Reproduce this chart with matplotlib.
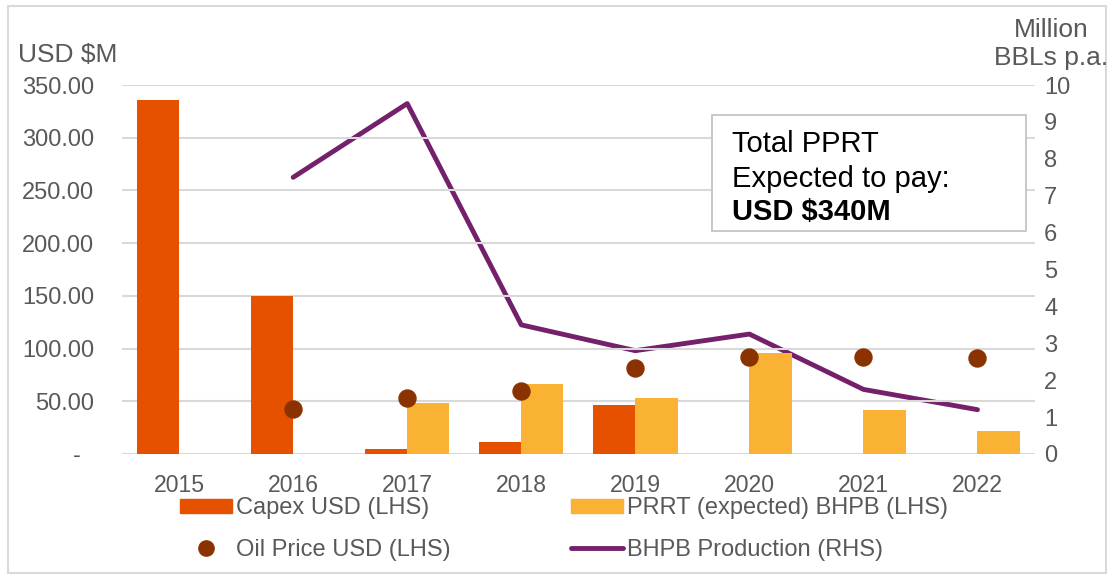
import matplotlib.pyplot as plt
import numpy as np
from matplotlib.patches import Rectangle
from matplotlib.lines import Line2D

plt.rcParams['font.family'] = ['Liberation Sans', 'DejaVu Sans']

years = ['2015', '2016', '2017', '2018', '2019', '2020', '2021', '2022']
capex = [336, 150, 5, 11, 46, 0, 0, 0]
prrt = [0, 0, 48, 66, 53, 96, 42, 22]
oil_price = [np.nan, 43, 53, 60, 82, 92, 92, 91]
production = [np.nan, 7.5, 9.5, 3.5, 2.8, 3.25, 1.75, 1.2]

c_capex = '#E65100'
c_prrt = '#F9B233'
c_oil = '#8B3300'
c_prod = '#74206B'
c_text = '#595959'

fig = plt.figure(figsize=(11.1, 5.79), dpi=100)
ax = fig.add_axes([0.110, 0.216, 0.822, 0.637])
ax2 = ax.twinx()

x = np.arange(len(years))
w = 0.37
ax.bar(x - w / 2, capex, width=w, color=c_capex, zorder=2)
ax.bar(x + w / 2, prrt, width=w, color=c_prrt, zorder=2)
ax.scatter(x, oil_price, s=150, color=c_oil, zorder=4)
ax2.plot(x, production, color=c_prod, lw=3.5, solid_capstyle='round', zorder=3)

ax.set_xlim(-0.5, 7.5)
ax.set_ylim(0, 350)
ax.set_yticks(np.arange(0, 351, 50))
ax.set_yticklabels(['-  '] + ['%.2f' % v for v in np.arange(50, 351, 50)])
ax2.set_ylim(0, 10)
ax2.set_yticks(range(0, 11))
ax.set_xticks(x)
ax.set_xticklabels(years)

ax.grid(axis='y', color='#D9D9D9', lw=1.5, zorder=0)
ax.set_axisbelow(True)
for a in (ax, ax2):
    for s in a.spines.values():
        s.set_visible(False)
    a.tick_params(length=0, labelsize=17, colors=c_text)
ax.tick_params(axis='x', labelsize=16.6, pad=14.5)
ax.tick_params(axis='y', pad=20)
ax2.tick_params(axis='y', pad=7)
ax.set_zorder(ax2.get_zorder() + 1)
ax.patch.set_visible(False)

fig.text(0.016, 0.905, 'USD $M', fontsize=19, color=c_text, va='center')
fig.text(0.947, 0.924, 'Million\nBBLs p.a.', fontsize=19, color=c_text,
         ha='center', va='center', linespacing=1.2)

# annotation box
ax.add_patch(Rectangle((0.647, 0.604), 0.344, 0.314, transform=ax.transAxes,
                       facecolor='white', edgecolor='#BFBFBF', lw=1.2, zorder=5))
ax.text(0.668, 0.818, 'Total PPRT', transform=ax.transAxes, fontsize=21, va='baseline', zorder=6)
ax.text(0.668, 0.723, 'Expected to pay:', transform=ax.transAxes, fontsize=21, va='baseline', zorder=6)
ax.text(0.668, 0.635, 'USD $340M', transform=ax.transAxes, fontsize=21, fontweight='bold',
        va='baseline', zorder=6)

handles = [
    Rectangle((0, 0), 1, 1, color=c_capex),
    Line2D([], [], ls='none', marker='o', ms=11, color=c_oil),
    Rectangle((0, 0), 1, 1, color=c_prrt),
    Line2D([], [], color=c_prod, lw=3.5, solid_capstyle='round'),
]
labels = ['Capex USD (LHS)', 'Oil Price USD (LHS)',
          'PRRT (expected) BHPB (LHS)', 'BHPB Production (RHS)']
leg = fig.legend(handles, labels, ncol=2, loc='upper left', bbox_to_anchor=(0.162, 0.141),
                 frameon=False, fontsize=17, handlelength=2.2, handleheight=0.55,
                 handletextpad=0.2, columnspacing=5.07, labelspacing=0.83, borderpad=0,
                 borderaxespad=0)
for t in leg.get_texts():
    t.set_color(c_text)

fig.add_artist(Rectangle((0.007, 0.01), 0.989, 0.979, transform=fig.transFigure,
                         fill=False, edgecolor='#D9D9D9', lw=1.5))

fig.savefig('out.png', dpi=100)
